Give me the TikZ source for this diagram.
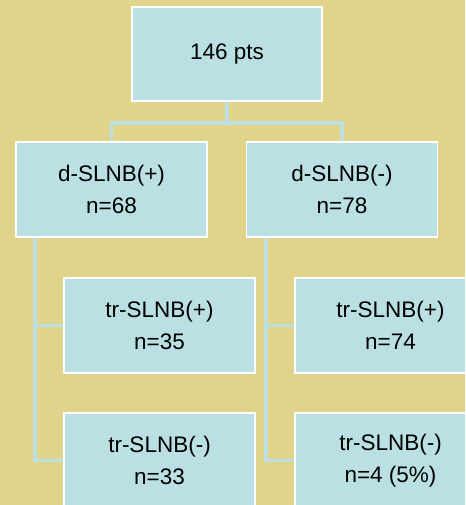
\documentclass[tikz,border=0pt]{standalone}
\usepackage{fontspec}
\setmainfont{Liberation Sans}
\usetikzlibrary{backgrounds}
\definecolor{bgyellow}{RGB}{224,212,138}
\definecolor{boxblue}{RGB}{187,224,227}
\tikzset{
  box/.style={draw=white, line width=1.5pt, fill=boxblue, minimum width=191pt, minimum height=95pt,
    inner sep=0pt, align=center, font=\fontsize{22.5}{32}\selectfont, text=black},
  link/.style={draw=boxblue, line width=3.5pt}
}
\begin{document}
\begin{tikzpicture}[x=1pt,y=-1pt]
\useasboundingbox (0,0) rectangle (465,505);
\clip (0,0) rectangle (465,505);
\node[box, minimum width=190pt, minimum height=94pt] (top) at (227,54) {146 pts};
\node[box] (dpos) at (111.5,189.5) {d-SLNB(+)\\n=68};
\node[box] (dneg) at (342,189.5) {d-SLNB(-)\\n=78};
\node[box] (lpos) at (159.5,325.5) {tr-SLNB(+)\\n=35};
\node[box] (lneg) at (159.5,460.5) {tr-SLNB(-)\\n=33};
\node[box] (rpos) at (390.5,325.5) {tr-SLNB(+)\\n=74};
\node[box] (rneg) at (390.5,460.5) {tr-SLNB(-)\\n=4 (5\%)};
\coordinate (split) at (227,123);
\coordinate (ltrunk) at (35,237);
\coordinate (rtrunk) at (266,237);
\begin{pgfonlayer}{background}
\fill[bgyellow] (0,0) rectangle (465,505);
\draw[link] (top.south) -- (split);
\draw[link] (split) -| (dpos.north);
\draw[link] (split) -| (dneg.north);
\draw[link] (ltrunk) |- (lpos.west);
\draw[link] (ltrunk) |- (lneg.west);
\draw[link] (rtrunk) |- (rpos.west);
\draw[link] (rtrunk) |- (rneg.west);
\end{pgfonlayer}
\end{tikzpicture}
\end{document}
